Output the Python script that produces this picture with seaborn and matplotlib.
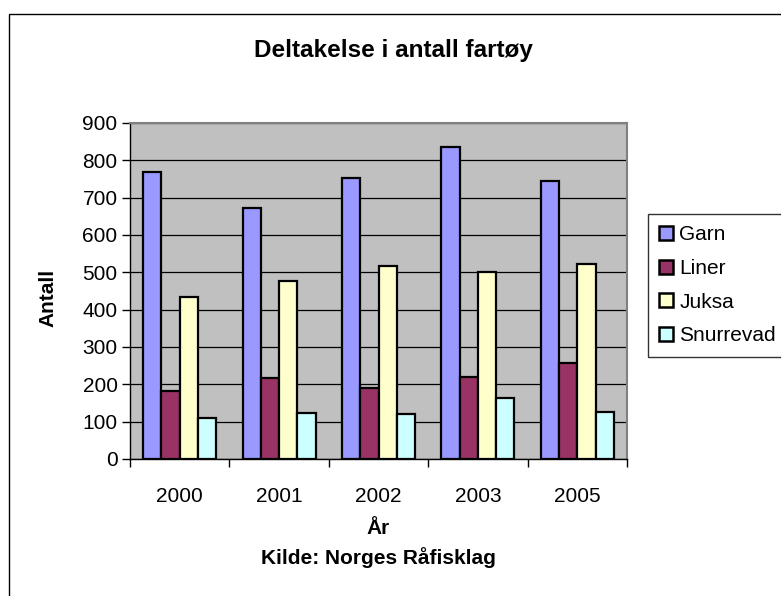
import numpy as np
import pandas as pd
import matplotlib
matplotlib.use("Agg")
import matplotlib.pyplot as plt
import seaborn as sns
from matplotlib.patches import Rectangle, Patch

sns.set_style("white")
plt.rcParams['font.family'] = ['Liberation Sans', 'DejaVu Sans']
plt.rcParams['text.color'] = 'black'
plt.rcParams['axes.labelcolor'] = 'black'
plt.rcParams['xtick.color'] = 'black'
plt.rcParams['ytick.color'] = 'black'

years = ["2000", "2001", "2002", "2003", "2005"]
series = ["Garn", "Liner", "Juksa", "Snurrevad"]
garn = [770, 672, 753, 836, 745]
liner = [182, 218, 191, 219, 256]
juksa = [435, 476, 516, 500, 521]
snurrevad = [109, 122, 120, 164, 127]

colors = ["#9999FF", "#993366", "#FFFFCC", "#CCFFFF"]

df = pd.DataFrame({"År": years, "Garn": garn, "Liner": liner,
                   "Juksa": juksa, "Snurrevad": snurrevad})
df = df.melt(id_vars="År", var_name="Redskap", value_name="Antall")

W, H = 781, 596
fig = plt.figure(figsize=(W / 100, H / 100), dpi=100)

# outer chart border
fig.patches.append(Rectangle((9 / W, -0.1), 1.0, (H - 14) / H + 0.1,
                             transform=fig.transFigure, fill=False,
                             edgecolor="black", linewidth=1.0))

ax = fig.add_axes([130 / W, (H - 459) / H, (627 - 130) / W, (459 - 123) / H])
ax.set_facecolor("#C0C0C0")

sns.barplot(data=df, x="År", y="Antall", hue="Redskap", hue_order=series,
            palette=colors, width=0.735, gap=0, edgecolor="black",
            linewidth=1.6, saturation=1, ax=ax, legend=False, zorder=3)

ax.set_ylim(0, 900)
ax.set_xlim(-0.5, len(years) - 0.5)
ax.set_yticks(np.arange(0, 901, 100))
ax.yaxis.grid(True, color="black", linewidth=0.9, zorder=0)
ax.set_axisbelow(True)

for side in ["top", "right"]:
    ax.spines[side].set_color("#808080")
    ax.spines[side].set_linewidth(1.5)
for side in ["left", "bottom"]:
    ax.spines[side].set_color("black")
    ax.spines[side].set_linewidth(1.0)

ax.tick_params(axis="y", which="major", direction="out", length=6, width=1,
               labelsize=15, pad=3, left=True)
ax.tick_params(axis="x", which="major", length=0, labelsize=15, pad=20)
ax.set_xticks(np.arange(-0.5, len(years), 1.0), minor=True)
ax.tick_params(axis="x", which="minor", direction="out", length=6, width=1,
               bottom=True)

ax.set_xlabel("")
ax.set_ylabel("")

fig.text(48 / W, 1 - 298 / H, "Antall", ha="center", va="center",
         rotation=90, fontsize=15, fontweight="bold")
fig.text(393 / W, 1 - 50 / H, "Deltakelse i antall fartøy", ha="center",
         va="center", fontsize=17.5, fontweight="bold")
fig.text(378 / W, 1 - 528 / H, "År", ha="center", va="center",
         fontsize=15, fontweight="bold")
fig.text(378 / W, 1 - 558 / H, "Kilde: Norges Råfisklag", ha="center",
         va="center", fontsize=15, fontweight="bold")

handles = [Patch(facecolor=c, edgecolor="black", linewidth=1.8) for c in colors]
leg = fig.legend(handles, series, loc="upper left",
                 bbox_to_anchor=(648 / W, 1 - 214 / H), frameon=True,
                 fancybox=False, fontsize=15, handlelength=0.65,
                 handleheight=0.65, handletextpad=0.3, labelspacing=0.7,
                 borderpad=0.55, borderaxespad=0)
leg.get_frame().set_edgecolor("black")
leg.get_frame().set_linewidth(1.0)

fig.savefig("out.png", dpi=100)
